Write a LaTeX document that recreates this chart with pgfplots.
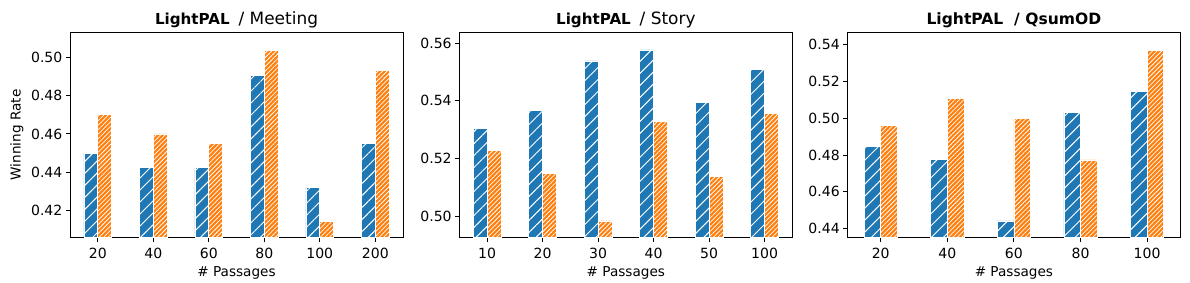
\documentclass[border=0pt]{standalone}
\usepackage{pgfplots}
\pgfplotsset{compat=1.18}
\usepackage{fontspec}
\setmainfont{DejaVu Sans}
\usetikzlibrary{patterns.meta}
\definecolor{c0}{HTML}{1F77B4}
\definecolor{c1}{HTML}{FF7F0E}
\pgfplotsset{
  every axis title shift=0pt,
  panel/.style={
    scale only axis, width=239.8pt, height=147.6pt,
    ybar, bar width=0.25,
    axis line style={line width=0.6pt},
    tick pos=left, tick align=outside, major tick length=3pt,
    tick style={black, line width=0.6pt},
    xtick=data,
    ytick distance=0.02,
    /pgf/number format/.cd, fixed, fixed zerofill, precision=2, assume math mode=true,
    /pgfplots/.cd,
    tick label style={font=\fontsize{10.1}{12}\selectfont},
    xticklabel style={yshift=-1.5pt},
    yticklabel style={xshift=1pt},
    label style={font=\fontsize{9.8}{11}\selectfont},
    xlabel={\# Passages},
    xlabel style={at={(axis description cs:0.5,0)}, anchor=base, yshift=-28.5pt},
    title style={at={(axis description cs:0.5,1)}, anchor=base, yshift=6pt},
  },
  blu/.style={fill=c0, draw=white, line width=0.5pt, bar shift=-0.125,
    postaction={pattern={Lines[angle=45,distance=6.1pt,line width=0.7pt]}, pattern color=white}},
  ora/.style={fill=c1, draw=white, line width=0.5pt, bar shift=0.125,
    postaction={pattern={Lines[angle=45,distance=2.3pt,line width=0.55pt]}, pattern color=white}},
}
\begin{document}
\begin{tikzpicture}
\useasboundingbox (-50.4pt,-32.2pt) rectangle (806.4pt,170.9pt);
\begin{axis}[panel, at={(0pt,0pt)}, anchor=south west,
  xmin=-0.5, xmax=5.5, ymin=0.406, ymax=0.513,
  xticklabels={20,40,60,80,100,200},
  ylabel={Winning Rate},
  ylabel style={at={(axis description cs:-0.1485,0.5)}, anchor=base},
  title={{\fontsize{10.9}{13}\selectfont\bfseries LightPAL}\ \ {\fontsize{12.2}{14}\selectfont / Meeting}}]
\addplot[blu] coordinates {(0,0.450) (1,0.4426) (2,0.4426) (3,0.4906) (4,0.432) (5,0.455)};
\addplot[ora] coordinates {(0,0.470) (1,0.460) (2,0.455) (3,0.5037) (4,0.4144) (5,0.4932)};
\end{axis}
\begin{axis}[panel, at={(280.3pt,0pt)}, anchor=south west,
  xmin=-0.5, xmax=5.5, ymin=0.4926, ymax=0.5638,
  xticklabels={10,20,30,40,50,100},
  title={{\fontsize{10.9}{13}\selectfont\bfseries LightPAL}\ \ {\fontsize{12.2}{14}\selectfont / Story}}]
\addplot[blu] coordinates {(0,0.5304) (1,0.5366) (2,0.5539) (3,0.5577) (4,0.5394) (5,0.5510)};
\addplot[ora] coordinates {(0,0.5228) (1,0.5149) (2,0.4983) (3,0.5328) (4,0.5139) (5,0.5355)};
\end{axis}
\begin{axis}[panel, at={(559.7pt,0pt)}, anchor=south west,
  xmin=-0.5, xmax=4.5, ymin=0.4353, ymax=0.5465,
  xticklabels={20,40,60,80,100},
  title={\fontsize{11.2}{13}\selectfont\bfseries LightPAL\ \ / QsumOD}]
\addplot[blu] coordinates {(0,0.4847) (1,0.4775) (2,0.4442) (3,0.5031) (4,0.5146)};
\addplot[ora] coordinates {(0,0.4958) (1,0.5105) (2,0.4998) (3,0.4773) (4,0.5369)};
\end{axis}
\end{tikzpicture}
\end{document}
